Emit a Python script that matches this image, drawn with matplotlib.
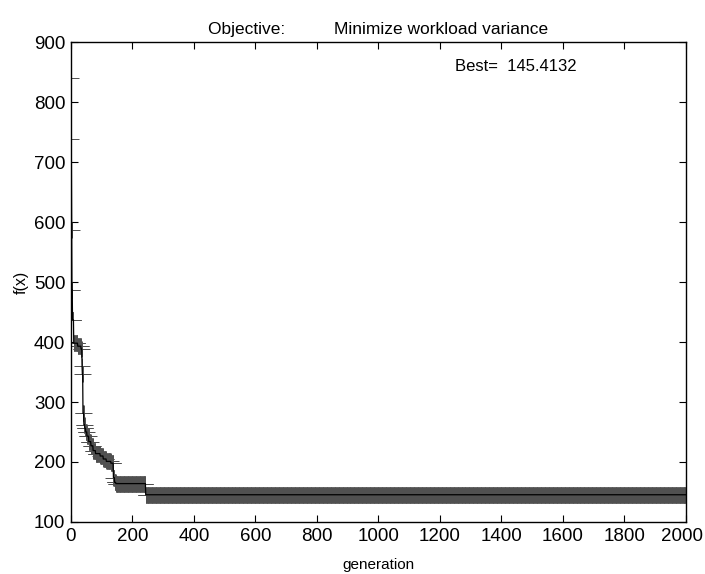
import numpy as np
import matplotlib
matplotlib.use('Agg')
import matplotlib.pyplot as plt
from matplotlib.transforms import ScaledTranslation

plt.rcParams['font.family'] = ['Liberation Sans', 'DejaVu Sans']

# generations where the best value improved, and the new best value
change_gen = [0, 1, 2, 3, 5, 9, 22, 33, 36, 37, 39, 42, 45, 48, 52, 58, 65, 72,
              80, 95, 105, 115, 130, 138, 142, 146, 243]
change_val = [840, 738, 586, 487, 437, 398, 393, 388, 360, 346, 281, 262, 256,
              250, 243, 234, 227, 219, 214, 210, 205, 201, 198, 174, 166, 164,
              145.4132]
n_gen = 2000
best_value = 145.4132

gens = np.arange(0, n_gen + 1)
idx = np.searchsorted(change_gen, gens, side='right') - 1
best = np.array(change_val)[idx]

fig = plt.figure(figsize=(7.05, 5.74), dpi=100)
ax = fig.add_axes([0.1007, 0.0906, 0.8723, 0.8362])

# markers first, then the black line on top
ax.plot(gens, best, linestyle='none', marker='+', markersize=12,
        markeredgewidth=0.7, markeredgecolor='#505050')
ax.plot(gens, best, color='black', linewidth=0.9)

ax.set_xlim(0, 2000)
ax.set_ylim(100, 900)
ax.set_xticks(np.arange(0, 2001, 200))
ax.set_yticks(np.arange(100, 901, 100))
ax.tick_params(direction='in', top=True, right=True, length=5, width=0.8,
               labelsize=13.5, pad=4)
for s in ax.spines.values():
    s.set_linewidth(1.0)

# keep "2000" inside the figure
last = ax.get_xticklabels()[-1]
last.set_transform(last.get_transform() + ScaledTranslation(-0.04, 0, fig.dpi_scale_trans))

ax.set_title('Objective:          Minimize workload variance', fontsize=12.5, pad=6)
ax.set_xlabel('generation', fontsize=11, labelpad=10)
ax.set_ylabel('f(x)', fontsize=11.5, labelpad=4)
ax.text(1250, 860, 'Best=  %.4f' % best_value, fontsize=12, va='center', ha='left')

fig.savefig('out.png', dpi=100)
